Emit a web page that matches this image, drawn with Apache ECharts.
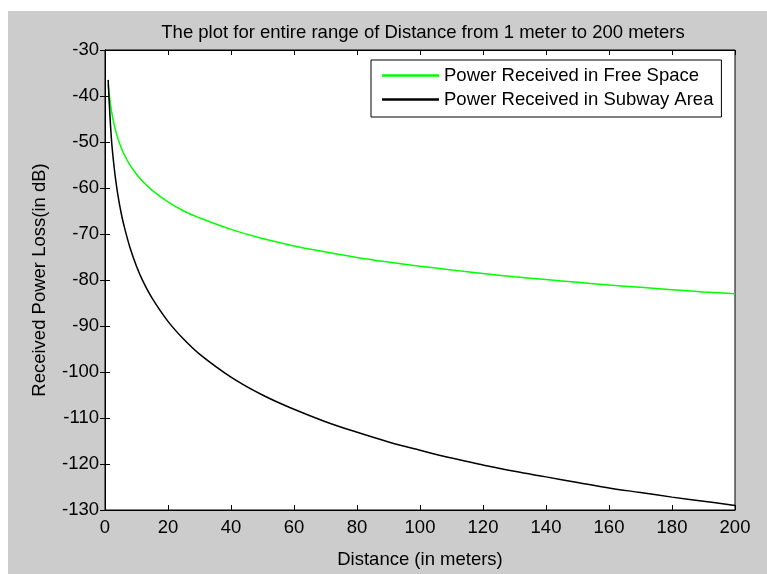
<!DOCTYPE html>
<html>
<head>
<meta charset="utf-8">
<script src="https://cdn.jsdelivr.net/npm/echarts@6/dist/echarts.min.js"></script>
<style>html,body{margin:0;padding:0;background:#fff}#c{width:767px;height:574px}</style>
</head>
<body>
<div id="c"></div>
<script>
// Data
const distances = [1,2,3,4,5,6,8,10,12,15,20,25,30,40,50,60,70,80,90,100,110,120,130,140,150,160,170,180,190,200];
const freeSpace = [-37.5,-43.0,-46.5,-49.0,-51.0,-52.6,-55.1,-57.0,-58.6,-60.5,-63.0,-65.0,-66.5,-69.0,-71.0,-72.6,-73.9,-75.1,-76.1,-77.0,-77.8,-78.6,-79.3,-79.9,-80.5,-81.1,-81.6,-82.1,-82.6,-83.0];
const subway = [-36.5,-49.0,-56.1,-61.1,-65.0,-68.1,-73.1,-77.0,-80.2,-84.0,-89.0,-92.9,-96.1,-101.1,-105.0,-108.1,-110.8,-113.1,-115.2,-117.0,-118.7,-120.2,-121.6,-122.8,-124.0,-125.2,-126.2,-127.2,-128.1,-129.0];
const seriesNames = ['Power Received in Free Space','Power Received in Subway Area'];
const titleText = 'The plot for entire range of Distance from 1 meter to 200 meters';
const xName = 'Distance (in meters)';
const yName = 'Received Power Loss(in dB)';

const FONT = '"Liberation Sans", Arial, sans-serif';
const FS = 18.5;
const pairs = (ys) => distances.map((d, i) => [d, ys[i]]);

const chart = echarts.init(document.getElementById('c'), null, {renderer: 'canvas'});
const xCommon = {type: 'value', min: 0, max: 200, interval: 20, splitLine: {show: false},
  axisLine: {show: true, lineStyle: {color: '#000', width: 1}},
  axisTick: {show: true, inside: true, length: 5, lineStyle: {color: '#000'}}};
const yCommon = {type: 'value', min: -130, max: -30, interval: 10, splitLine: {show: false},
  axisLine: {show: true, lineStyle: {color: '#000', width: 1}},
  axisTick: {show: true, inside: true, length: 5, lineStyle: {color: '#000'}}};

chart.setOption({
  animation: false,
  backgroundColor: '#fff',
  graphic: [{type: 'rect', shape: {x: 8, y: 11, width: 759, height: 563}, style: {fill: '#cccccc'}, z: -100, silent: true}],
  title: {text: titleText, left: 418, top: 18, textAlign: 'center',
    textStyle: {fontFamily: FONT, fontSize: FS, fontWeight: 'normal', color: '#000'}},
  grid: {left: 105, right: 32, top: 50, bottom: 55, show: true, backgroundColor: '#fff', borderColor: '#000', borderWidth: 1},
  legend: {orient: 'vertical', left: 371, top: 60, padding: [5, 8, 7, 11], itemGap: 3,
    backgroundColor: '#fff', borderColor: '#000', borderWidth: 1, borderRadius: 0,
    itemWidth: 57, itemHeight: 2.5, icon: 'rect',
    textStyle: {fontFamily: FONT, fontSize: FS, color: '#000', lineHeight: 21},
    data: seriesNames},
  xAxis: [
    Object.assign({}, xCommon, {position: 'bottom', name: xName, nameLocation: 'middle', nameGap: 40,
      nameTextStyle: {fontFamily: FONT, fontSize: FS, color: '#000'},
      axisLabel: {fontFamily: FONT, fontSize: FS, color: '#000', margin: 8}}),
    Object.assign({}, xCommon, {position: 'top', axisLabel: {show: false}})
  ],
  yAxis: [
    Object.assign({}, yCommon, {position: 'left', name: yName, nameLocation: 'middle', nameGap: 56,
      nameTextStyle: {fontFamily: FONT, fontSize: FS, color: '#000'},
      axisLabel: {fontFamily: FONT, fontSize: FS, color: '#000', margin: 6}}),
    Object.assign({}, yCommon, {position: 'right', axisLabel: {show: false}})
  ],
  series: [
    {name: seriesNames[0], type: 'line', data: pairs(freeSpace), xAxisIndex: 0, yAxisIndex: 0,
      showSymbol: false, symbol: 'none', smooth: 0.4, lineStyle: {color: '#00ff00', width: 1.5}, itemStyle: {color: '#00ff00'}},
    {name: seriesNames[1], type: 'line', data: pairs(subway), xAxisIndex: 0, yAxisIndex: 0,
      showSymbol: false, symbol: 'none', smooth: 0.4, lineStyle: {color: '#000000', width: 1.5}, itemStyle: {color: '#000000'}}
  ]
});
</script>
</body>
</html>
